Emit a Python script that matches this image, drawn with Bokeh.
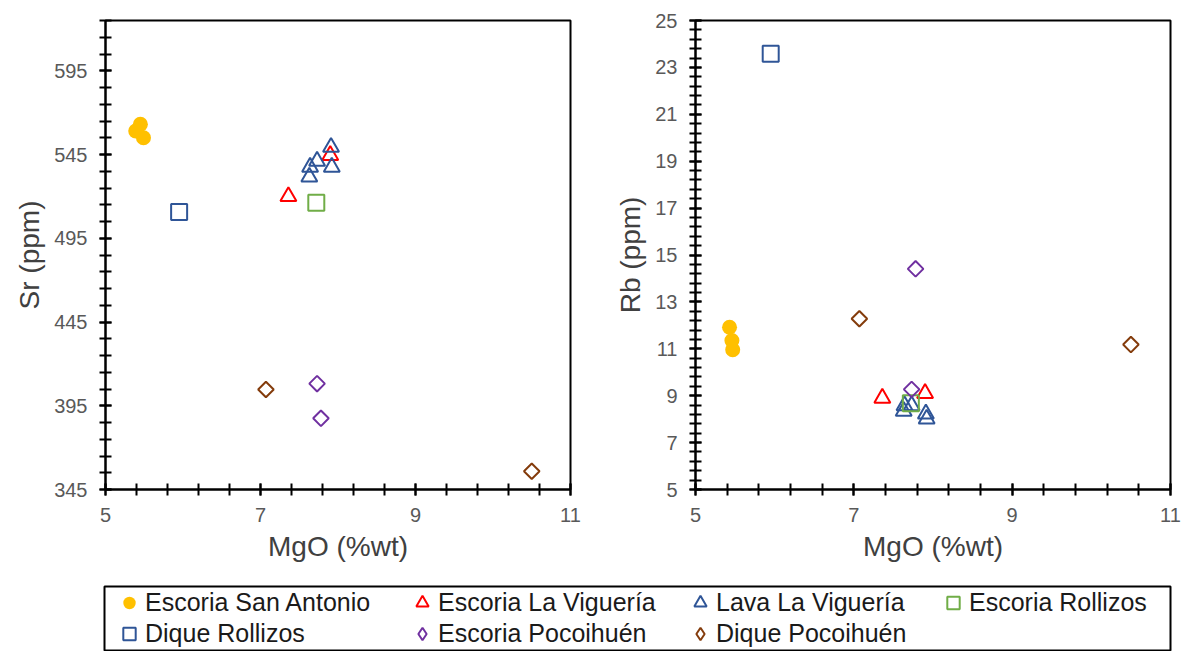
import numpy as np
from bokeh.plotting import figure
from bokeh.models import Range1d, FixedTicker, Legend, LegendItem, ColumnDataSource
from bokeh.layouts import column, row
from bokeh.embed import file_html
from bokeh.resources import INLINE

# ---------------- data ----------------
series_names = ["Escoria San Antonio", "Escoria La Viguería", "Lava La Viguería",
                "Escoria Rollizos", "Dique Rollizos", "Escoria Pocoihuén", "Dique Pocoihuén"]

san_antonio_mgo_sr = [5.45, 5.39, 5.49]
san_antonio_sr = [563.0, 559.0, 555.0]
san_antonio_mgo_rb = [5.43, 5.46, 5.47]
san_antonio_rb = [11.92, 11.35, 10.96]

esc_viguería_mgo = [7.36, 7.90]
esc_viguería_sr = [520.0, 544.5]
esc_viguería_rb = [8.90, 9.10]

lava_viguería_mgo = [7.91, 7.73, 7.64, 7.92, 7.63]
lava_viguería_sr = [549.4, 541.1, 537.5, 537.5, 531.6]
lava_viguería_rb = [8.23, 8.58, 8.58, 8.01, 8.34]

esc_rollizos_mgo = [7.72]
esc_rollizos_sr = [516.2]
esc_rollizos_rb = [8.68]

dique_rollizos_mgo = [5.95]
dique_rollizos_sr = [510.7]
dique_rollizos_rb = [23.58]

esc_pocoihuen_mgo = [7.73, 7.78]
esc_pocoihuen_sr = [408.2, 387.5]
esc_pocoihuen_rb = [9.27, 14.41]

dique_pocoihuen_mgo = [7.07, 10.50]
dique_pocoihuen_sr = [404.7, 355.9]
dique_pocoihuen_rb = [12.28, 11.18]

x_ticks = [5, 7, 9, 11]
sr_ticks = [345, 395, 445, 495, 545, 595]
rb_ticks = [5, 7, 9, 11, 13, 15, 17, 19, 21, 23, 25]

# legend columns (row-major reading order of the reference)
legend_columns = [["Escoria San Antonio", "Dique Rollizos"],
                  ["Escoria La Viguería", "Escoria Pocoihuén"],
                  ["Lava La Viguería", "Dique Pocoihuén"],
                  ["Escoria Rollizos"]]

FONT = "Liberation Sans"
TICK_COLOR = "#595959"

styles = {
    "Escoria San Antonio": dict(marker="circle", color="#FFC000", fill=True, size=15, angle=0.0),
    "Escoria La Viguería": dict(marker="triangle", color="#FF0000", fill=False, size=16, angle=0.0),
    "Lava La Viguería": dict(marker="triangle", color="#2F5597", fill=False, size=16, angle=0.0),
    "Escoria Rollizos": dict(marker="square", color="#70AD47", fill=False, size=16, angle=0.0),
    "Dique Rollizos": dict(marker="square", color="#2F5597", fill=False, size=16, angle=0.0),
    "Escoria Pocoihuén": dict(marker="square", color="#7030A0", fill=False, size=11, angle=np.pi / 4),
    "Dique Pocoihuén": dict(marker="square", color="#843C0C", fill=False, size=11, angle=np.pi / 4),
}
# legend icons are drawn unrotated, so the diamonds use Bokeh's own diamond marker there
legend_marker = {"Escoria Pocoihuén": "diamond", "Dique Pocoihuén": "diamond"}

sr_data = {
    "Escoria San Antonio": (san_antonio_mgo_sr, san_antonio_sr),
    "Escoria La Viguería": (esc_viguería_mgo, esc_viguería_sr),
    "Lava La Viguería": (lava_viguería_mgo, lava_viguería_sr),
    "Escoria Rollizos": (esc_rollizos_mgo, esc_rollizos_sr),
    "Dique Rollizos": (dique_rollizos_mgo, dique_rollizos_sr),
    "Escoria Pocoihuén": (esc_pocoihuen_mgo, esc_pocoihuen_sr),
    "Dique Pocoihuén": (dique_pocoihuen_mgo, dique_pocoihuen_sr),
}
rb_data = {
    "Escoria San Antonio": (san_antonio_mgo_rb, san_antonio_rb),
    "Escoria La Viguería": (esc_viguería_mgo, esc_viguería_rb),
    "Lava La Viguería": (lava_viguería_mgo, lava_viguería_rb),
    "Escoria Rollizos": (esc_rollizos_mgo, esc_rollizos_rb),
    "Dique Rollizos": (dique_rollizos_mgo, dique_rollizos_rb),
    "Escoria Pocoihuén": (esc_pocoihuen_mgo, esc_pocoihuen_rb),
    "Dique Pocoihuén": (dique_pocoihuen_mgo, dique_pocoihuen_rb),
}


def add_series(p, name, xs, ys, marker=None):
    st = styles[name]
    src = ColumnDataSource(dict(x=xs, y=ys))
    r = p.scatter("x", "y", source=src, marker=marker or st["marker"], size=st["size"],
                  angle=st["angle"],
                  line_color=st["color"], line_width=0 if st["fill"] else 2,
                  fill_color=st["color"] if st["fill"] else None,
                  fill_alpha=1.0)
    return r


def style_axes(p, ylabel):
    for ax in (p.xaxis[0], p.yaxis[0]):
        ax.axis_line_color = "black"
        ax.axis_line_width = 2
        ax.major_tick_line_color = "black"
        ax.minor_tick_line_color = "black"
        ax.major_tick_line_width = 2
        ax.minor_tick_line_width = 2
        ax.major_tick_in = 6
        ax.major_tick_out = 6
        ax.minor_tick_in = 6
        ax.minor_tick_out = 6
        ax.major_label_text_font = FONT
        ax.major_label_text_font_size = "20px"
        ax.major_label_text_color = TICK_COLOR
        ax.major_label_standoff = 12
        ax.axis_label_text_font = FONT
        ax.axis_label_text_font_size = "28px"
        ax.axis_label_text_font_style = "normal"
        ax.axis_label_text_color = "#404040"
        ax.axis_label_standoff = 6
    p.xaxis.axis_label = "MgO (%wt)"
    p.yaxis.axis_label = ylabel
    p.grid.visible = False
    p.outline_line_color = "black"
    p.outline_line_width = 2
    p.outline_line_alpha = 1.0


def make_panel(data, ylabel, y0, y1, yticks, yminor, width, height, bl, br, bt, bb):
    p = figure(width=width, height=height, output_backend="svg", toolbar_location=None,
               x_range=Range1d(5, 11), y_range=Range1d(y0, y1),
               min_border_left=bl, min_border_right=br, min_border_top=bt, min_border_bottom=bb,
               background_fill_color="white", border_fill_color="white")
    p.xaxis.ticker = FixedTicker(ticks=x_ticks, minor_ticks=list(np.round(np.arange(5, 11.01, 0.4), 2)))
    p.yaxis.ticker = FixedTicker(ticks=yticks, minor_ticks=yminor)
    style_axes(p, ylabel)
    for name in series_names:
        xs, ys = data[name]
        add_series(p, name, xs, ys)
    return p


p1 = make_panel(sr_data, "Sr (ppm)", 345, 625, sr_ticks,
                list(np.arange(345, 626, 10)), 590, 575, 105, 20, 19, 83)
p2 = make_panel(rb_data, "Rb (ppm)", 5, 25, rb_ticks,
                list(np.round(np.arange(5, 25.01, 0.4), 2)), 595, 575, 105, 15, 20, 86)

# ---------------- legend panel ----------------
# The frame outline of this panel is the legend box; the series renderers reuse the
# real data, which lies outside this panel's 0..1 ranges, so only legend glyphs show.
pl = figure(width=1185, height=76, output_backend="svg", toolbar_location=None,
            x_axis_type=None, y_axis_type=None, x_range=Range1d(0, 1), y_range=Range1d(0, 1),
            min_border_left=104, min_border_right=15, min_border_top=11, min_border_bottom=0)
pl.outline_line_color = "black"
pl.outline_line_width = 2
pl.grid.visible = False
renderers = {name: add_series(pl, name, *sr_data[name], marker=legend_marker.get(name))
             for name in series_names}

ROW_H = 31
col_offsets = [9, 302, 580, 833]
for names, vx in zip(legend_columns, col_offsets):
    vy = 2 + ROW_H * (2 - len(names))
    leg = Legend(items=[LegendItem(label=n, renderers=[renderers[n]]) for n in names],
                 location=(vx, vy), margin=0, padding=0, spacing=0,
                 label_text_font=FONT, label_text_font_size="25px", label_text_color="#1a1a1a",
                 glyph_width=32, glyph_height=ROW_H, label_standoff=0,
                 border_line_color=None, background_fill_alpha=0.0)
    pl.add_layout(leg, "center")

layout = column(row(p1, p2), pl)
open("out.html", "w").write(file_html(layout, INLINE))
